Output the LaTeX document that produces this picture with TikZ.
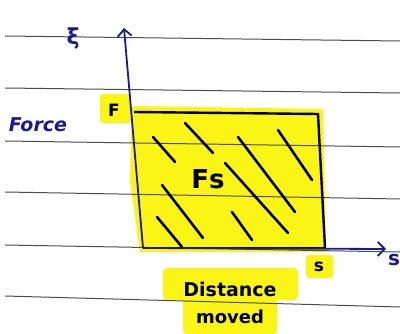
\documentclass[tikz,border=0pt]{standalone}
\usepackage{fontspec}
\setsansfont{DejaVu Sans}
\newfontfamily\greekfont{DejaVu Sans}
\usepackage{tikz}
\usetikzlibrary{arrows.meta,positioning,calc}
\definecolor{penblue}{RGB}{25,25,150}
\definecolor{marker}{RGB}{250,245,20}
\tikzset{
  rule/.style={gray!60!black,line width=1pt},
  hatch/.style={line width=2.6pt,line cap=round},
  penaxis/.style={penblue,line width=1.8pt,-{Straight Barb[length=7pt,width=14pt,line width=1.8pt]}},
  hand/.style={font=\sffamily,inner sep=0pt}
}
\begin{document}
\begin{tikzpicture}[x=1pt,y=-1pt]
  \useasboundingbox (0,0) rectangle (400,334); % 紙面の大きさ
  \fill[white] (0,0) rectangle (400,334); % 背景
  \coordinate (O) at (143,248); % 原点
  \coordinate (ytip) at (124,28); % 縦軸の先
  \coordinate (xtip) at (386,249); % 横軸の先
  \coordinate (Ftop) at (134,112); % 長方形の左上
  \coordinate (Fright) at (318,114); % 長方形の右上
  \coordinate (sbot) at (325,248); % 長方形の右下
  \fill[marker] (132,106) -- (323,109) -- (326,252) -- (140,252) -- (130,180) -- cycle; % 長方形の蛍光ペン
  \fill[marker,rounded corners=3pt] (100,94) rectangle (131,123); % Fの蛍光ペン
  \fill[marker,rounded corners=3pt] (306,255) rectangle (333,278); % sの蛍光ペン
  \fill[marker,rounded corners=4pt] (163,268) rectangle (298,300); % Distanceの蛍光ペン
  \fill[marker,rounded corners=4pt] (183,296) rectangle (277,334); % movedの蛍光ペン
  \foreach \yl/\yr in {36/41,88/93,141/147,192/199,245/252,296/307}
    \draw[rule] (5,\yl) -- (400,\yr); % 罫線
  \draw[hatch] (153,137) -- (175,162); % 斜線1
  \draw[hatch] (185,123) -- (213,153); % 斜線2
  \draw[hatch] (238,137) -- (295,212); % 斜線3
  \draw[hatch] (278,130) -- (312,180); % 斜線4
  \draw[hatch] (225,163) -- (288,233); % 斜線5
  \draw[hatch] (162,185) -- (203,238); % 斜線6
  \draw[hatch] (157,217) -- (182,247); % 斜線7
  \draw[hatch] (232,212) -- (252,240); % 斜線8
  \draw[line width=2.4pt] (Ftop) -- (Fright) -- (sbot); % 長方形の上と右
  \draw[line width=2.4pt] (O) -- (sbot); % 長方形の下
  \draw[penaxis] (O) -- (ytip); % 縦軸
  \draw[penaxis] (O) -- (xtip); % 横軸
  \node[hand,penblue,font=\sffamily\bfseries\fontsize{19}{21}\selectfont] (force) at (38,125) {\itshape Force}; % 縦軸の名前
  \node[hand,font=\sffamily\bfseries\fontsize{17}{19}\selectfont] (F) at (114,110) {F}; % 力の値
  \node[hand,font=\sffamily\bfseries\fontsize{26}{28}\selectfont] (Fs) at (208,179) {Fs}; % 面積
  \node[hand,font=\sffamily\bfseries\fontsize{17}{19}\selectfont] (s) at (319,267) {s}; % 距離の値
  \node[hand,font=\sffamily\bfseries\fontsize{19}{21}\selectfont] (dist) at (230,289) {Distance}; % 横軸の名前
  \node[hand,font=\sffamily\bfseries\fontsize{18}{20}\selectfont] (moved) at (230,317) {moved}; % 横軸の名前の続き
  \node[hand,penblue,font=\greekfont\bfseries\fontsize{22}{24}\selectfont] (xi) at (73,38) {ξ}; % 縦軸の記号
  \node[hand,penblue,font=\sffamily\bfseries\fontsize{20}{22}\selectfont] (sx) at (394,260) {s}; % 横軸の記号
\end{tikzpicture}
\end{document}
